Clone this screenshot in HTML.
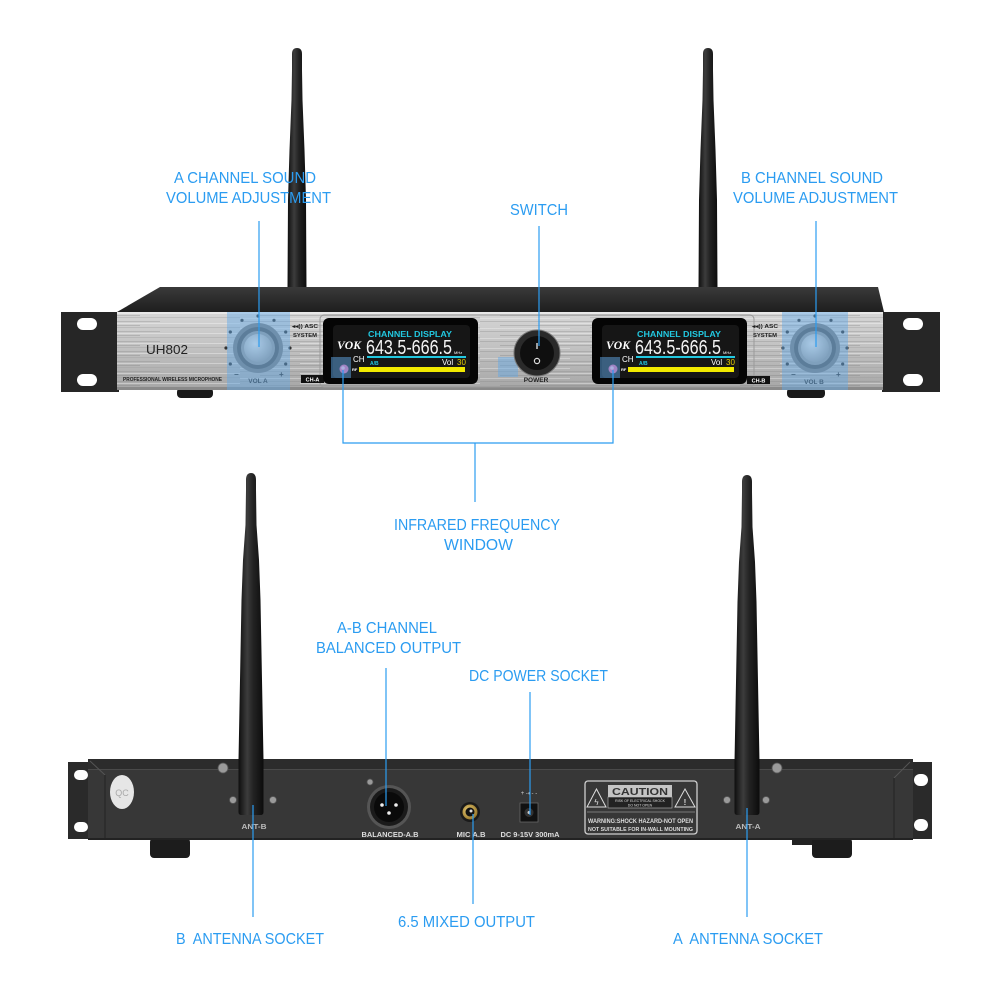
<!DOCTYPE html>
<html><head><meta charset="utf-8"><style>html,body{margin:0;padding:0;background:#fff}svg{display:block}</style></head><body>
<svg width="1000" height="1000" viewBox="0 0 1000 1000" xmlns="http://www.w3.org/2000/svg" font-family="'Liberation Sans', sans-serif">
<defs>
<linearGradient id="silver" x1="0" y1="0" x2="0" y2="1">
 <stop offset="0" stop-color="#d6d6d6"/><stop offset="0.45" stop-color="#c2c2c2"/><stop offset="1" stop-color="#a6a6a6"/>
</linearGradient>
<pattern id="brush" width="240" height="10" patternUnits="userSpaceOnUse">
 <rect x="0" y="1" width="160" height="1" fill="#8a8a8a" opacity="0.35"/>
 <rect x="60" y="3" width="180" height="1" fill="#ffffff" opacity="0.35"/>
 <rect x="20" y="5" width="120" height="1" fill="#7a7a7a" opacity="0.3"/>
 <rect x="110" y="7" width="130" height="1" fill="#9a9a9a" opacity="0.35"/>
 <rect x="0" y="8" width="90" height="1" fill="#ffffff" opacity="0.3"/>
</pattern>
<linearGradient id="ant" x1="0" y1="0" x2="1" y2="0">
 <stop offset="0" stop-color="#0e0e0e"/><stop offset="0.35" stop-color="#3c3c3c"/><stop offset="0.6" stop-color="#222"/><stop offset="1" stop-color="#0c0c0c"/>
</linearGradient>
<linearGradient id="top" x1="0" y1="0" x2="0" y2="1">
 <stop offset="0" stop-color="#3a3a3a"/><stop offset="1" stop-color="#1e1e1e"/>
</linearGradient>
<radialGradient id="knobcap" cx="0.4" cy="0.35" r="0.7">
 <stop offset="0" stop-color="#e6e6e6"/><stop offset="1" stop-color="#9a9a9a"/>
</radialGradient>
<radialGradient id="gold" cx="0.4" cy="0.4" r="0.7">
 <stop offset="0" stop-color="#f0d27a"/><stop offset="1" stop-color="#8a6a20"/>
</radialGradient>
</defs>

<!-- ============ FRONT UNIT ============ -->
<!-- antennas (behind top) -->
<path fill="url(#ant)" d="M292,54 Q292,48 297,48 Q302,48 302,54 L302,70 L302.5,100 L304.5,150 L306,200 L306.5,290 L287.5,290 L288,200 L289.5,150 L291.5,100 L292,70 Z"/>
<path fill="url(#ant)" d="M703,54 Q703,48 708,48 Q713,48 713,54 L713,70 L713.5,100 L715.5,150 L717,200 L717.5,290 L698.5,290 L699,200 L700.5,150 L702.5,100 L703,70 Z"/>

<!-- top surface -->
<polygon points="160,287 878,287 884,312 117,312" fill="url(#top)"/>
<!-- ears -->
<rect x="61" y="312" width="58" height="80" fill="#262626"/>
<rect x="77" y="318" width="20" height="12" rx="6" fill="#fff"/>
<rect x="77" y="374" width="20" height="12" rx="6" fill="#fff"/>
<rect x="882" y="312" width="58" height="80" fill="#262626"/>
<rect x="903" y="318" width="20" height="12" rx="6" fill="#fff"/>
<rect x="903" y="374" width="20" height="12" rx="6" fill="#fff"/>
<!-- feet -->
<rect x="177" y="388" width="36" height="10" rx="4" fill="#1a1a1a"/>
<rect x="787" y="388" width="38" height="10" rx="4" fill="#1a1a1a"/>
<!-- face -->
<rect x="117" y="312" width="766" height="78" fill="url(#silver)"/>
<rect x="117" y="312" width="766" height="78" fill="url(#brush)"/>
<rect x="117" y="312" width="766" height="2" fill="#e8e8e8"/>
<rect x="117" y="387" width="766" height="3" fill="#8a8a8a"/>
<!-- center bezel -->
<rect x="320" y="315" width="434" height="72" rx="4" fill="none" stroke="#9a9a9a" stroke-width="1"/>

<!-- branding -->
<text x="146" y="354" font-size="12.5" fill="#222" textLength="42" lengthAdjust="spacingAndGlyphs">UH802</text>
<text x="123" y="381" font-size="5.5" font-weight="bold" fill="#222" textLength="99" lengthAdjust="spacingAndGlyphs">PROFESSIONAL WIRELESS MICROPHONE</text>

<!-- left knob -->
<g>
 <g fill="#333">
  <circle cx="230.3" cy="364" r="1.6"/><circle cx="226" cy="348" r="1.6"/><circle cx="230.3" cy="332" r="1.6"/><circle cx="242" cy="320.3" r="1.6"/><circle cx="258" cy="316" r="1.6"/><circle cx="274" cy="320.3" r="1.6"/><circle cx="285.7" cy="332" r="1.6"/><circle cx="290" cy="348" r="1.6"/><circle cx="285.7" cy="364" r="1.6"/>
 </g>
 <circle cx="258" cy="348" r="25" fill="#7d7d7d"/>
 <circle cx="258" cy="348" r="21" fill="#5a5a5a"/>
 <circle cx="258" cy="348" r="17" fill="#9a9a9a"/>
 <circle cx="258" cy="348" r="14" fill="url(#knobcap)"/>
 <text x="234" y="377" font-size="8" fill="#333" font-weight="bold">−</text>
 <text x="279" y="377" font-size="8" fill="#333" font-weight="bold">+</text>
 <text x="258" y="383" font-size="6.5" font-weight="bold" fill="#333" text-anchor="middle">VOL A</text>
</g>
<rect x="227" y="312" width="63" height="78" fill="#5fa8e8" opacity="0.45"/>
<text x="292" y="328" font-size="5.5" font-weight="bold" fill="#222" textLength="26" lengthAdjust="spacingAndGlyphs">◂◂)) ASC</text>
<text x="293" y="337" font-size="5.5" font-weight="bold" fill="#222" textLength="24" lengthAdjust="spacingAndGlyphs">SYSTEM</text>
<rect x="301" y="375" width="23" height="8" fill="#111"/>
<text x="312.5" y="381.5" font-size="5.5" font-weight="bold" fill="#fff" text-anchor="middle">CH-A</text>

<!-- left display -->
<g>
 <rect x="323" y="318" width="155" height="66" rx="6" fill="#050505"/>
 <rect x="333" y="325" width="137" height="53" rx="4" fill="#161616"/>
 <text x="368" y="337" font-size="8.5" font-weight="bold" fill="#22c8e0" textLength="84" lengthAdjust="spacingAndGlyphs">CHANNEL DISPLAY</text>
 <text x="337" y="349" font-size="12" font-weight="bold" font-style="italic" font-family="'Liberation Serif', serif" fill="#fff" textLength="24" lengthAdjust="spacingAndGlyphs">VOK</text>
 <text x="366" y="354" font-size="20" fill="#f4f4f4" textLength="86" lengthAdjust="spacingAndGlyphs">643.5-666.5</text>
 <text x="454" y="354" font-size="4" fill="#fff">MHz</text>
 <rect x="367" y="356" width="99" height="2" fill="#22c8e0"/>
 <text x="353" y="362" font-size="8" fill="#fff">CH</text>
 <text x="370" y="365" font-size="5" font-weight="bold" fill="#22c8e0">A/B</text>
 <text x="442" y="365" font-size="8" fill="#fff">Vol</text>
 <text x="457" y="365" font-size="8" fill="#e8d000">30</text>
 <text x="352" y="371" font-size="4" font-weight="bold" fill="#fff">RF</text>
 <rect x="359" y="367" width="106" height="5" fill="#f2ea00"/>
 <circle cx="344" cy="369" r="4.5" fill="#e0609f"/>
 <circle cx="343" cy="368" r="1.8" fill="#f7b7d7"/>
 <rect x="331" y="357" width="20" height="21" fill="#5fa8e8" opacity="0.5"/>
</g>

<!-- switch -->
<rect x="498" y="357" width="20" height="20" fill="#5fa8e8" opacity="0.45"/>
<circle cx="537" cy="353" r="23" fill="#2a2a2a" stroke="#777" stroke-width="1"/>
<circle cx="537" cy="353" r="17" fill="#0f0f0f"/>
<rect x="536.3" y="343" width="1.4" height="6" fill="#ddd"/>
<circle cx="537" cy="361" r="2.6" fill="none" stroke="#ddd" stroke-width="1.2"/>
<text x="536" y="382" font-size="6.5" font-weight="bold" fill="#222" text-anchor="middle">POWER</text>

<!-- right display -->
<g transform="translate(269,0)">
 <rect x="323" y="318" width="155" height="66" rx="6" fill="#050505"/>
 <rect x="333" y="325" width="137" height="53" rx="4" fill="#161616"/>
 <text x="368" y="337" font-size="8.5" font-weight="bold" fill="#22c8e0" textLength="84" lengthAdjust="spacingAndGlyphs">CHANNEL DISPLAY</text>
 <text x="337" y="349" font-size="12" font-weight="bold" font-style="italic" font-family="'Liberation Serif', serif" fill="#fff" textLength="24" lengthAdjust="spacingAndGlyphs">VOK</text>
 <text x="366" y="354" font-size="20" fill="#f4f4f4" textLength="86" lengthAdjust="spacingAndGlyphs">643.5-666.5</text>
 <text x="454" y="354" font-size="4" fill="#fff">MHz</text>
 <rect x="367" y="356" width="99" height="2" fill="#22c8e0"/>
 <text x="353" y="362" font-size="8" fill="#fff">CH</text>
 <text x="370" y="365" font-size="5" font-weight="bold" fill="#22c8e0">A/B</text>
 <text x="442" y="365" font-size="8" fill="#fff">Vol</text>
 <text x="457" y="365" font-size="8" fill="#e8d000">30</text>
 <text x="352" y="371" font-size="4" font-weight="bold" fill="#fff">RF</text>
 <rect x="359" y="367" width="106" height="5" fill="#f2ea00"/>
 <circle cx="344" cy="369" r="4.5" fill="#e0609f"/>
 <circle cx="343" cy="368" r="1.8" fill="#f7b7d7"/>
 <rect x="331" y="357" width="20" height="21" fill="#5fa8e8" opacity="0.5"/>
</g>

<text x="752" y="328" font-size="5.5" font-weight="bold" fill="#222" textLength="26" lengthAdjust="spacingAndGlyphs">◂◂)) ASC</text>
<text x="753" y="337" font-size="5.5" font-weight="bold" fill="#222" textLength="24" lengthAdjust="spacingAndGlyphs">SYSTEM</text>
<rect x="747" y="376" width="23" height="8" fill="#111"/>
<text x="758.5" y="382.5" font-size="5.5" font-weight="bold" fill="#fff" text-anchor="middle">CH-B</text>

<!-- right knob -->
<g>
 <g fill="#333">
  <circle cx="787.3" cy="364" r="1.6"/><circle cx="783" cy="348" r="1.6"/><circle cx="787.3" cy="332" r="1.6"/><circle cx="799" cy="320.3" r="1.6"/><circle cx="815" cy="316" r="1.6"/><circle cx="831" cy="320.3" r="1.6"/><circle cx="842.7" cy="332" r="1.6"/><circle cx="847" cy="348" r="1.6"/><circle cx="842.7" cy="364" r="1.6"/>
 </g>
 <circle cx="815" cy="348" r="25" fill="#7d7d7d"/>
 <circle cx="815" cy="348" r="21" fill="#5a5a5a"/>
 <circle cx="815" cy="348" r="17" fill="#9a9a9a"/>
 <circle cx="815" cy="348" r="14" fill="url(#knobcap)"/>
 <text x="791" y="377" font-size="8" fill="#333" font-weight="bold">−</text>
 <text x="836" y="377" font-size="8" fill="#333" font-weight="bold">+</text>
 <text x="814" y="384" font-size="6.5" font-weight="bold" fill="#333" text-anchor="middle">VOL B</text>
</g>
<rect x="782" y="312" width="66" height="78" fill="#5fa8e8" opacity="0.45"/>

<!-- ============ REAR UNIT ============ -->
<!-- ears -->
<rect x="68" y="762" width="24" height="77" fill="#2a2a2a"/>
<rect x="74" y="770" width="14" height="10" rx="5" fill="#fff"/>
<rect x="74" y="822" width="14" height="10" rx="5" fill="#fff"/>
<rect x="910" y="762" width="22" height="77" fill="#2a2a2a"/>
<rect x="914" y="774" width="14" height="12" rx="6" fill="#fff"/>
<rect x="914" y="819" width="14" height="12" rx="6" fill="#fff"/>
<!-- feet -->
<rect x="150" y="838" width="40" height="20" rx="4" fill="#1c1c1c"/>
<rect x="792" y="838" width="22" height="7" fill="#222"/>
<rect x="812" y="838" width="40" height="20" rx="4" fill="#1c1c1c"/>
<!-- body -->
<rect x="88" y="759" width="825" height="81" fill="#373737"/>
<rect x="88" y="759" width="825" height="10" fill="#2c2c2c"/>
<rect x="88" y="769" width="825" height="1" fill="#4a4a4a"/>
<line x1="90" y1="761" x2="105" y2="775" stroke="#555" stroke-width="1"/>
<line x1="105" y1="775" x2="105" y2="840" stroke="#2a2a2a" stroke-width="1.5"/>
<line x1="910" y1="762" x2="894" y2="778" stroke="#555" stroke-width="1"/>
<line x1="894" y1="778" x2="894" y2="840" stroke="#2a2a2a" stroke-width="1.5"/>
<rect x="88" y="838" width="825" height="2" fill="#222"/>

<!-- QC sticker -->
<ellipse cx="122" cy="792" rx="12" ry="17" fill="#e6e6e6"/>
<text x="122" y="796" font-size="9" fill="#aaa" text-anchor="middle">QC</text>

<!-- screws -->
<g fill="#9a9a9a" stroke="#555" stroke-width="0.8">
 <circle cx="223" cy="768" r="5"/><circle cx="233" cy="800" r="3.5"/><circle cx="273" cy="800" r="3.5"/>
 <circle cx="370" cy="782" r="3"/>
 <circle cx="727" cy="800" r="3.5"/><circle cx="766" cy="800" r="3.5"/><circle cx="777" cy="768" r="5"/>
</g>

<!-- XLR -->
<circle cx="389" cy="807" r="22" fill="#555"/>
<circle cx="389" cy="807" r="19" fill="#1a1a1a"/>
<circle cx="389" cy="807" r="15" fill="#0a0a0a"/>
<circle cx="382" cy="805" r="1.8" fill="#eee"/><circle cx="396" cy="805" r="1.8" fill="#eee"/><circle cx="389" cy="813" r="1.8" fill="#eee"/>
<text x="390" y="837" font-size="7" font-weight="bold" fill="#ddd" text-anchor="middle" textLength="57" lengthAdjust="spacingAndGlyphs">BALANCED-A.B</text>

<!-- 6.5 jack -->
<circle cx="470" cy="812" r="10" fill="#1a1a1a"/>
<circle cx="470" cy="812" r="7.5" fill="url(#gold)"/>
<circle cx="470" cy="812" r="4.5" fill="#111"/>
<circle cx="471" cy="811" r="1.5" fill="#ddd"/>
<text x="471" y="837" font-size="7" font-weight="bold" fill="#ddd" text-anchor="middle" textLength="29" lengthAdjust="spacingAndGlyphs">MIC A.B</text>

<!-- DC -->
<text x="529" y="795" font-size="6" fill="#ccc" text-anchor="middle">+ -◐- -</text>
<rect x="520" y="803" width="18" height="19" fill="#111" stroke="#666" stroke-width="0.8"/>
<circle cx="529" cy="812.5" r="4.5" fill="#333"/>
<circle cx="529" cy="812.5" r="1.5" fill="#ccc"/>
<text x="530" y="837" font-size="7" font-weight="bold" fill="#ddd" text-anchor="middle" textLength="59" lengthAdjust="spacingAndGlyphs">DC 9-15V 300mA</text>

<!-- caution label -->
<rect x="585" y="781" width="112" height="53" rx="3" fill="none" stroke="#cfcfcf" stroke-width="1.3"/>
<rect x="608" y="785" width="64" height="12" fill="#c4c4c4"/>
<text x="640" y="795" font-size="10" font-weight="bold" fill="#333" text-anchor="middle" textLength="56" lengthAdjust="spacingAndGlyphs">CAUTION</text>
<rect x="608" y="797" width="64" height="11" fill="#222" stroke="#bbb" stroke-width="0.6"/>
<text x="640" y="802" font-size="3.5" fill="#ddd" text-anchor="middle">RISK OF ELECTRICAL SHOCK</text>
<text x="640" y="806.5" font-size="3.5" fill="#ddd" text-anchor="middle">DO NOT OPEN</text>
<polygon points="596.5,789 606,807 587,807" fill="none" stroke="#ddd" stroke-width="1"/>
<text x="596.5" y="805" font-size="8" fill="#ddd" text-anchor="middle">ϟ</text>
<polygon points="685,789 695,807 675,807" fill="none" stroke="#ddd" stroke-width="1"/>
<text x="685" y="805" font-size="8" font-weight="bold" fill="#ddd" text-anchor="middle">!</text>
<line x1="587" y1="812" x2="695" y2="812" stroke="#bbb" stroke-width="0.6"/>
<text x="588" y="823" font-size="6.5" font-weight="bold" fill="#ddd" textLength="105" lengthAdjust="spacingAndGlyphs">WARNING:SHOCK HAZARD-NOT OPEN</text>
<text x="588" y="831" font-size="5" font-weight="bold" fill="#ddd" textLength="105" lengthAdjust="spacingAndGlyphs">NOT SUITABLE FOR IN-WALL MOUNTING</text>

<text x="254" y="829" font-size="7" font-weight="bold" fill="#bbb" text-anchor="middle" textLength="25" lengthAdjust="spacingAndGlyphs">ANT-B</text>
<text x="748" y="829" font-size="7" font-weight="bold" fill="#bbb" text-anchor="middle" textLength="25" lengthAdjust="spacingAndGlyphs">ANT-A</text>

<!-- rear antennas -->
<path fill="url(#ant)" d="M246,480 Q246,473 251,473 Q256,473 256,480 L256,490 L256.5,525 L259,560 L260.5,600 L262,680 L263.5,760 L263.5,812 Q263.5,815 260.5,815 L241.5,815 Q238.5,815 238.5,812 L238.5,760 L240,680 L241.5,600 L243,560 L245.5,525 L246,490 Z"/>
<path fill="url(#ant)" d="M742,482 Q742,475 747,475 Q752,475 752,482 L752,492 L752.5,527 L755,562 L756.5,602 L758,682 L759.5,762 L759.5,812 Q759.5,815 756.5,815 L737.5,815 Q734.5,815 734.5,812 L734.5,762 L736,682 L737.5,602 L739,562 L741.5,527 L742,492 Z"/>

<!-- ============ CALLOUT LINES ============ -->
<g stroke="#2b9cf1" stroke-width="1.2" fill="none">
 <line x1="259" y1="221" x2="259" y2="347"/>
 <line x1="539" y1="226" x2="539" y2="346"/>
 <line x1="816" y1="221" x2="816" y2="347"/>
 <polyline points="343,370 343,443 613,443 613,370"/>
 <line x1="475" y1="443" x2="475" y2="502"/>
 <line x1="386" y1="668" x2="386" y2="806"/>
 <line x1="530" y1="692" x2="530" y2="815"/>
 <line x1="253" y1="805" x2="253" y2="917"/>
 <line x1="473" y1="814" x2="473" y2="904"/>
 <line x1="747" y1="808" x2="747" y2="917"/>
</g>

<!-- ============ LABELS ============ -->
<g font-size="16" fill="#2b9cf1">
 <text x="174" y="183" textLength="142" lengthAdjust="spacingAndGlyphs">A CHANNEL SOUND</text>
 <text x="166" y="203" textLength="165" lengthAdjust="spacingAndGlyphs">VOLUME ADJUSTMENT</text>
 <text x="510" y="215" textLength="58" lengthAdjust="spacingAndGlyphs">SWITCH</text>
 <text x="741" y="183" textLength="142" lengthAdjust="spacingAndGlyphs">B CHANNEL SOUND</text>
 <text x="733" y="203" textLength="165" lengthAdjust="spacingAndGlyphs">VOLUME ADJUSTMENT</text>
 <text x="394" y="530" textLength="166" lengthAdjust="spacingAndGlyphs">INFRARED FREQUENCY</text>
 <text x="444" y="550" textLength="69" lengthAdjust="spacingAndGlyphs">WINDOW</text>
 <text x="337" y="633" textLength="100" lengthAdjust="spacingAndGlyphs">A-B CHANNEL</text>
 <text x="316" y="653" textLength="145" lengthAdjust="spacingAndGlyphs">BALANCED OUTPUT</text>
 <text x="469" y="681" textLength="139" lengthAdjust="spacingAndGlyphs">DC POWER SOCKET</text>
 <text x="176" y="944" textLength="148" lengthAdjust="spacingAndGlyphs" xml:space="preserve">B  ANTENNA SOCKET</text>
 <text x="398" y="927" textLength="137" lengthAdjust="spacingAndGlyphs">6.5 MIXED OUTPUT</text>
 <text x="673" y="944" textLength="150" lengthAdjust="spacingAndGlyphs" xml:space="preserve">A  ANTENNA SOCKET</text>
</g>
</svg>
</body></html>
